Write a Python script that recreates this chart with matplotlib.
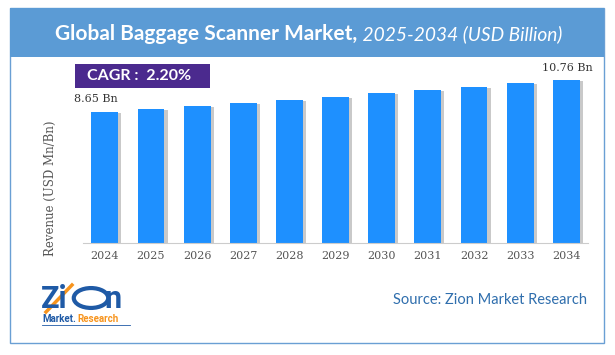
import matplotlib
matplotlib.use("Agg")
import matplotlib.pyplot as plt
from matplotlib.patches import Rectangle, Circle

years = ["2024", "2025", "2026", "2027", "2028", "2029", "2030", "2031", "2032", "2033", "2034"]
values = [8.65, 8.84, 9.03, 9.23, 9.44, 9.65, 9.87, 10.08, 10.30, 10.53, 10.76]
first_label = "8.65 Bn"
last_label = "10.76 Bn"
cagr_text = "CAGR :  2.20%"
title_main = "Global Baggage Scanner Market,"
title_sub = " 2025-2034 (USD Billion)"
y_label = "Revenue (USD Mn/Bn)"
source_text = "Source: Zion Market Research"

W, H = 615, 355
fig = plt.figure(figsize=(W / 100, H / 100), dpi=100)
fig.patch.set_facecolor("white")

def fx(px):
    return px / W

def fy(py):
    return 1 - py / H

# outer frame
fig.patches.append(Rectangle((fx(10), fy(343)), fx(604) - fx(10), fy(8) - fy(343),
                             transform=fig.transFigure, fill=False, edgecolor="#6A9FD4", lw=1.0))
# header band
fig.patches.append(Rectangle((fx(10), fy(57)), fx(604) - fx(10), fy(8) - fy(57),
                             transform=fig.transFigure, facecolor="#5B9BD5", edgecolor="none"))

# title
t1 = fig.text(0, fy(34), title_main, color="white", fontsize=15, fontweight="bold",
              family="Lato", va="center", ha="left")
t2 = fig.text(0, fy(34), title_sub, color="white", fontsize=13.8, style="italic",
              family="Lato", va="center", ha="left")
fig.canvas.draw()
r = fig.canvas.get_renderer()
w1 = t1.get_window_extent(r).width
w2 = t2.get_window_extent(r).width
start = (W - (w1 + w2)) / 2 + 1
t1.set_x(start / W)
t2.set_x((start + w1) / W)

# axes
ax = fig.add_axes([fx(82.7), fy(243), fx(588) - fx(82.7), fy(58) - fy(243)])
x = list(range(len(years)))
bw = 0.58
ax.bar([i + 0.07 for i in x], [v - 0.05 for v in values], width=bw, color="#7a7a7a",
       alpha=0.4, zorder=1, linewidth=0)
ax.bar(x, values, width=bw, color="#1E90FF", zorder=2, linewidth=0)
ax.set_xlim(-0.48, 10.47)
ax.set_ylim(0, 12.21)
ax.set_xticks(x)
ax.set_xticklabels(years, family="DejaVu Serif", fontsize=8, color="#555555")
ax.tick_params(axis="x", length=0, pad=6)
ax.set_yticks([])
for s in ["top", "right", "left"]:
    ax.spines[s].set_visible(False)
ax.spines["bottom"].set_color("#cccccc")
ax.patch.set_alpha(0)

ax.annotate(first_label, (x[0], values[0]), xytext=(-22, 6), textcoords="offset points",
            ha="left", va="bottom", fontsize=8, family="DejaVu Serif", color="#333333")
ax.annotate(last_label, (x[-1], values[-1]), xytext=(19, 5), textcoords="offset points",
            ha="right", va="bottom", fontsize=8, family="DejaVu Serif", color="#333333")

fig.text(fx(50), fy(188), y_label, rotation=90, ha="center", va="center",
         fontsize=8.5, family="DejaVu Serif", color="#555555")

# CAGR box
fig.patches.append(Rectangle((fx(75), fy(88)), fx(210) - fx(75), fy(64) - fy(88),
                             transform=fig.transFigure, facecolor="#4B2A8E", edgecolor="none"))
fig.text(fx(87), fy(76), cagr_text, color="white", fontsize=11.5, fontweight="bold",
         family="Lato", ha="left", va="center")

# source
fig.text(fx(587), fy(300), source_text, color="#2F6EAD", fontsize=10.5,
         family="Lato", ha="right", va="center")

# logo approximation
fig.text(fx(41), fy(299), "Zi", color="#1F5AA6", fontsize=22, fontweight="bold",
         family="Roboto", ha="left", va="center")
fig.patches.append(Circle((fx(91), fy(298)), 0.028, transform=fig.transFigure,
                          facecolor="white", edgecolor="#1F5AA6", lw=3))
fig.text(fx(104), fy(299), "n", color="#1F5AA6", fontsize=22, fontweight="bold",
         family="Roboto", ha="left", va="center")
fig.lines.append(plt.Line2D([fx(46), fx(72)], [fy(312), fy(285)], transform=fig.transFigure,
                            color="#F7941D", lw=2.5))
fig.text(fx(42), fy(319), "Market.", color="#1F5AA6", fontsize=7, fontweight="bold",
         family="Roboto", ha="left", va="center")
fig.text(fx(77), fy(319), "Research", color="#F7941D", fontsize=7, fontweight="bold",
         family="Roboto", ha="left", va="center")
fig.lines.append(plt.Line2D([fx(42), fx(130)], [fy(325), fy(325)], transform=fig.transFigure,
                            color="#1F5AA6", lw=0.6))

fig.savefig("out.png", dpi=100)
